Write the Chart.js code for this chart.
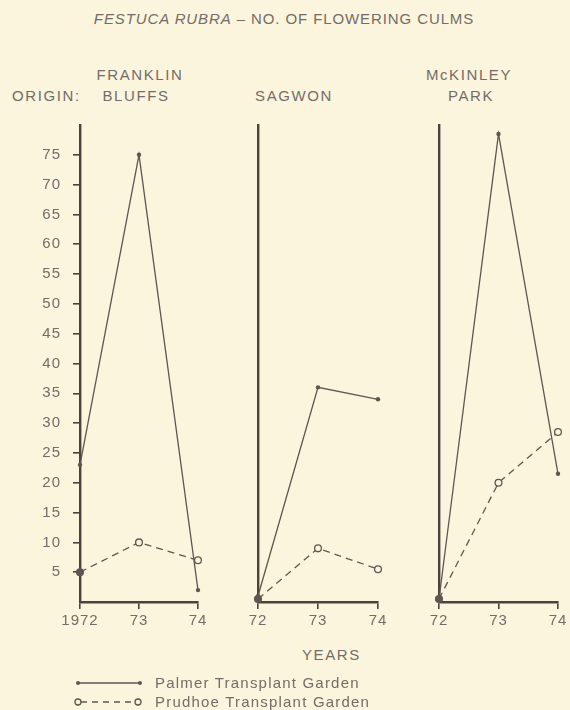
<!DOCTYPE html>
<html>
<head>
<meta charset="utf-8">
<script src="https://cdn.jsdelivr.net/npm/chart.js@4.4.1/dist/chart.umd.min.js"></script>
<style>
  html, body { margin: 0; padding: 0; background: #fcf5de; }
  #page { position: relative; width: 570px; height: 710px; overflow: hidden;
          font-family: "Liberation Sans", Arial, sans-serif; color: #736c68; }
  #page canvas { position: absolute; left: 0; top: 0; }
  .t { position: absolute; white-space: nowrap; font-size: 15px; line-height: 15px; letter-spacing: 1.6px; }
  .c { transform: translateX(-50%); }
  #legend { position: absolute; left: 0; top: 0; }
</style>
</head>
<body>
<div id="page">
  <div class="t c" style="left:284px; top:10.5px; letter-spacing:0.9px;"><i>FESTUCA RUBRA</i> – NO. OF FLOWERING CULMS</div>
  <div class="t" style="left:12px; top:88px;">ORIGIN:</div>
  <div id="heads"></div>
  <div class="t" style="left:302px; top:647px;">YEARS</div>
  <svg id="legend" width="570" height="710"></svg>
  <canvas id="p0" width="570" height="710"></canvas>
  <canvas id="p1" width="570" height="710"></canvas>
  <canvas id="p2" width="570" height="710"></canvas>
</div>
<script>
// Flowering culms per year, by plant origin and transplant garden
const years = ['72', '73', '74'];
const tickLabelsFirst = ['1972', '73', '74'];
const tickLabelsOther = ['72', '73', '74'];
const yTicks = [5, 10, 15, 20, 25, 30, 35, 40, 45, 50, 55, 60, 65, 70, 75];

const originTop = ['FRANKLIN', '', 'McKINLEY'];
const originBottom = ['BLUFFS', 'SAGWON', 'PARK'];

const palmerFranklin = [23, 75, 2];
const prudhoeFranklin = [5, 10, 7];
const palmerSagwon = [1, 36, 34];
const prudhoeSagwon = [0.5, 9, 5.5];
const palmerMcKinley = [0.5, 78.5, 21.5];
const prudhoeMcKinley = [0.5, 20, 28.5];

const seriesNames = ['Palmer Transplant Garden', 'Prudhoe Transplant Garden'];

const INK = '#4b423d';
const LINE = '#5f5651';
const TEXT = '#736c68';
const PAPER = '#fcf5de';

// panel frames: left edge (72), right edge (74)
const panelLeft = [80, 258, 439];
const panelRight = [198, 378, 558];
const plotTop = 125, plotBottom = 602, W = 570, H = 710;
const headCenters = [[140, 136], [294, 294], [469, 471]];

// origin headings
const heads = document.getElementById('heads');
originTop.forEach((txt, i) => {
  if (txt) heads.insertAdjacentHTML('beforeend',
    `<div class="t c" style="left:${headCenters[i][0]}px; top:67px;">${txt}</div>`);
  heads.insertAdjacentHTML('beforeend',
    `<div class="t c" style="left:${headCenters[i][1]}px; top:88px;">${originBottom[i]}</div>`);
});

// legend keys
const svg = document.getElementById('legend');
svg.innerHTML =
  `<line x1="78" y1="683" x2="140" y2="683" stroke="${LINE}" stroke-width="1.3"/>
   <circle cx="78" cy="683" r="2" fill="${LINE}"/><circle cx="140" cy="683" r="2" fill="${LINE}"/>
   <line x1="81" y1="702" x2="135" y2="702" stroke="${LINE}" stroke-width="1.3" stroke-dasharray="6,5"/>
   <circle cx="78" cy="702" r="3" fill="${PAPER}" stroke="${LINE}" stroke-width="1.3"/>
   <circle cx="138" cy="702" r="3" fill="${PAPER}" stroke="${LINE}" stroke-width="1.3"/>`;
const legendTops = [675, 694];
seriesNames.forEach((name, i) => {
  document.getElementById('page').insertAdjacentHTML('beforeend',
    `<div class="t" style="left:155px; top:${legendTops[i]}px; letter-spacing:1.2px;">${name}</div>`);
});

const spacing = {
  id: 'spacing',
  beforeDraw(chart) { chart.ctx.letterSpacing = '1px'; }
};

function panel(idx, palmer, prudhoe, labels, withTicks) {
  const yWidth = withTicks ? panelLeft[idx] : 0;
  new Chart(document.getElementById('p' + idx), {
    type: 'line',
    data: {
      labels: labels,
      datasets: [
        {
          label: seriesNames[1], data: prudhoe, clip: false,
          borderColor: LINE, borderWidth: 1.3, borderDash: [7, 5],
          pointRadius: 3.4, pointBorderWidth: 1.3, pointBorderColor: LINE,
          pointBackgroundColor: prudhoe.map((v, i) => i === 0 ? LINE : PAPER),
          tension: 0, order: 2
        },
        {
          label: seriesNames[0], data: palmer, clip: false,
          borderColor: LINE, borderWidth: 1.3,
          pointRadius: 2.2, pointBorderWidth: 0, pointBackgroundColor: LINE,
          tension: 0, order: 1
        }
      ]
    },
    options: {
      responsive: false, animation: false, devicePixelRatio: 1,
      layout: { padding: { left: panelLeft[idx] - yWidth, right: W - panelRight[idx],
                           top: plotTop, bottom: H - plotBottom - 40 } },
      plugins: { legend: { display: false }, tooltip: { enabled: false } },
      scales: {
        x: {
          type: 'category', offset: false,
          afterFit: s => { s.height = 40; },
          grid: { drawOnChartArea: false, drawTicks: true, tickLength: 7, color: INK, lineWidth: 1.6, offset: false },
          border: { display: true, color: INK, width: 2.4 },
          ticks: { color: TEXT, padding: 3, font: { family: 'Liberation Sans', size: 15 }, autoSkip: false, maxRotation: 0 }
        },
        y: {
          min: 0, max: 80,
          afterFit: s => { s.width = yWidth; },
          afterBuildTicks: s => { s.ticks = withTicks ? yTicks.map(v => ({ value: v })) : []; },
          grid: { display: withTicks, drawOnChartArea: false, drawTicks: true, tickLength: 7, color: INK, lineWidth: 1.6 },
          border: { display: true, color: INK, width: 2.4 },
          ticks: { display: withTicks, color: TEXT, padding: 12, font: { family: 'Liberation Sans', size: 15 } }
        }
      }
    },
    plugins: [spacing]
  });
}

panel(0, palmerFranklin, prudhoeFranklin, tickLabelsFirst, true);
panel(1, palmerSagwon, prudhoeSagwon, tickLabelsOther, false);
panel(2, palmerMcKinley, prudhoeMcKinley, tickLabelsOther, false);
</script>
</body>
</html>
